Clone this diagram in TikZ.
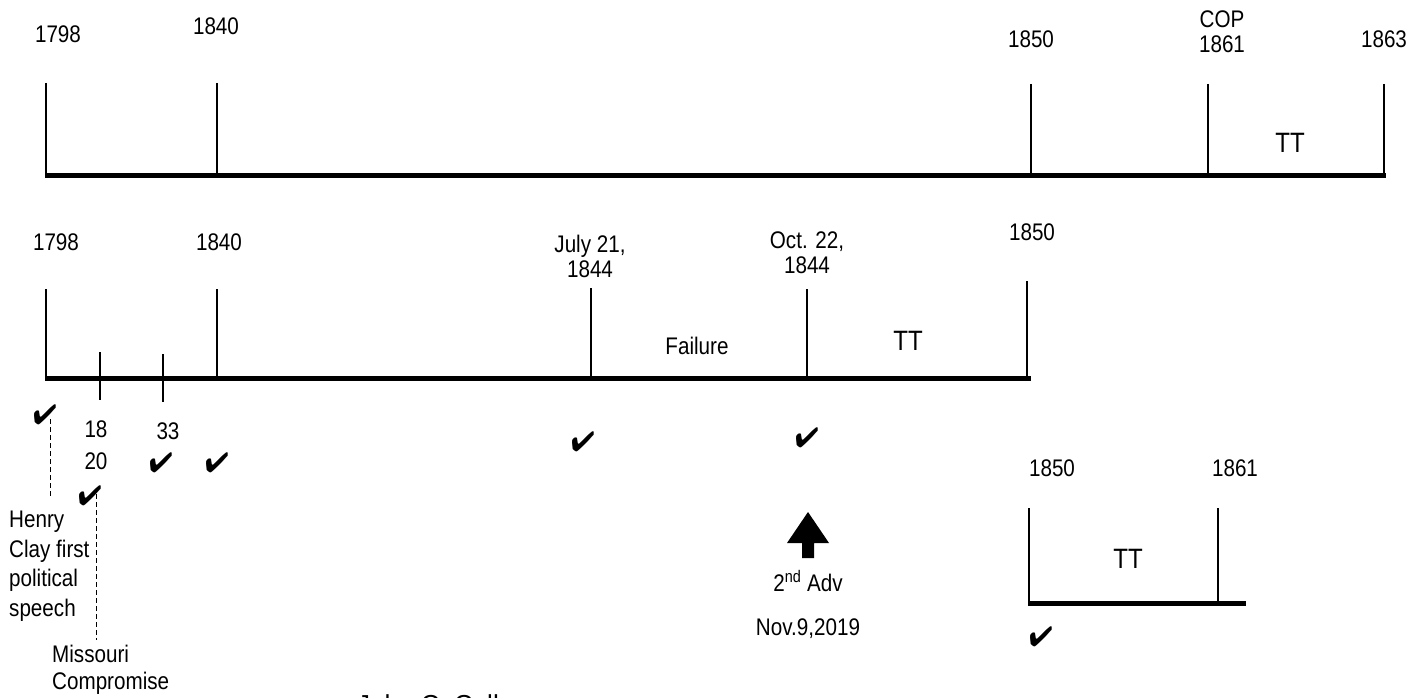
\documentclass[tikz,border=0pt]{standalone}
\usepackage{fontspec}
\usepackage{pifont}
\setmainfont{Liberation Sans}[FakeStretch=0.86]
\newfontfamily\widefont{Liberation Sans}
\begin{document}
\begin{tikzpicture}[x=1pt,y=-1pt,
  lbl/.style={font=\fontsize{24}{25}\selectfont, inner sep=0pt, align=center},
  big/.style={font=\fontsize{28}{30}\selectfont, inner sep=0pt},
  axis/.style={line width=5pt},
  tick/.style={line width=1.3pt},
  chk/.style={font=\fontsize{28}{28}\selectfont, inner sep=0pt},
  lead/.style={line width=1pt, dash pattern=on 5pt off 3pt}]
\useasboundingbox (0,0) rectangle (1408,698);
\clip (0,0) rectangle (1408,698);
% ---------- top timeline ----------
\coordinate (A0) at (45,175); \coordinate (A1) at (1386,175);
\draw[axis] (A0) -- (A1);
\coordinate (a1t) at (46,83);   \coordinate (a1b) at (46,175);
\coordinate (a2t) at (217,83);  \coordinate (a2b) at (217,175);
\coordinate (a3t) at (1031,84); \coordinate (a3b) at (1031,175);
\coordinate (a4t) at (1208,84); \coordinate (a4b) at (1208,175);
\coordinate (a5t) at (1384,84); \coordinate (a5b) at (1384,175);
\foreach \i in {1,...,5} \draw[tick] (a\i t) -- (a\i b);
\node[lbl] (t1798) at (58,34) {1798};
\node[lbl] (t1840) at (216,26) {1840};
\node[lbl] (t1850) at (1031,39) {1850};
\node[lbl] (tcop) at (1222,32) {COP\\1861};
\node[lbl] (t1863) at (1384,39) {1863};
\node[big] (tTT) at (1290,143) {TT};
% ---------- middle timeline ----------
\coordinate (B0) at (45,378); \coordinate (B1) at (1031,378);
\draw[axis] (B0) -- (B1);
\coordinate (b1t) at (46,289);  \coordinate (b1b) at (46,378);
\coordinate (b2t) at (100,352); \coordinate (b2b) at (100,400);
\coordinate (b3t) at (163,354); \coordinate (b3b) at (163,402);
\coordinate (b4t) at (217,289); \coordinate (b4b) at (217,378);
\coordinate (b5t) at (591,288); \coordinate (b5b) at (591,378);
\coordinate (b6t) at (807,289); \coordinate (b6b) at (807,378);
\coordinate (b7t) at (1027,281);\coordinate (b7b) at (1027,378);
\foreach \i in {1,...,7} \draw[tick] (b\i t) -- (b\i b);
\node[lbl] (m1798) at (56,242) {1798};
\node[lbl] (m1840) at (219,242) {1840};
\node[lbl] (mjul) at (590,256) {July 21,\\1844};
\node[lbl] (moct) at (807,253) {Oct. 22,\\1844};
\node[lbl] (m1850) at (1032,232) {1850};
\node[lbl] (fail) at (697,346) {Failure};
\node[big] (mTT) at (908,341) {TT};
\node[lbl] (n18) at (96,429) {18};
\node[lbl] (n20) at (96,461) {20};
\node[lbl] (n33) at (168,431) {33};
% check marks
\node[chk] (c1) at (45,415) {\ding{52}};
\node[chk] (c2) at (90,496) {\ding{52}};
\node[chk] (c3) at (161,463) {\ding{52}};
\node[chk] (c4) at (217,463) {\ding{52}};
\node[chk] (c5) at (583,442) {\ding{52}};
\node[chk] (c6) at (807,438) {\ding{52}};
% notes
\node[lbl, anchor=north west, align=left, font=\fontsize{24}{29.5}\selectfont] (henry) at (9,511) {Henry\\Clay first\\political\\speech};
\node[lbl, anchor=north west, align=left, font=\fontsize{24}{27}\selectfont] (miss) at (52,645) {Missouri\\Compromise};
\coordinate (d1a) at (50,419); \coordinate (d1b) at (50,498);
\coordinate (d2a) at (96,494); \coordinate (d2b) at (96,640);
\draw[lead] (d1a) -- (d1b);
\draw[lead] (d2a) -- (d2b);
% second advent arrow
\fill (808,512) -- (829,543) -- (814,543) -- (814,558) -- (802,558) -- (802,543) -- (787,543) -- cycle;
\node[lbl] (adv) at (808,581) {2\textsuperscript{nd} Adv};
\node[lbl] (nov) at (808,629) {Nov.9,2019};
% ---------- bottom right timeline ----------
\coordinate (C0) at (1028,603); \coordinate (C1) at (1246,603);
\draw[axis] (C0) -- (C1);
\coordinate (c1t) at (1029,508); \coordinate (c1b) at (1029,603);
\coordinate (c2t) at (1218,508); \coordinate (c2b) at (1218,601);
\draw[tick] (c1t) -- (c1b);
\draw[tick] (c2t) -- (c2b);
\node[lbl] (r1850) at (1052,468) {1850};
\node[lbl] (r1861) at (1235,468) {1861};
\node[big] (rTT) at (1128,559) {TT};
\node[chk] (c7) at (1041,637) {\ding{52}};
% clipped caption
\node[inner sep=0pt, anchor=north west, font=\widefont\fontsize{26}{28}\selectfont] (john) at (357,694) {John C. Calhoun};
\end{tikzpicture}
\end{document}
